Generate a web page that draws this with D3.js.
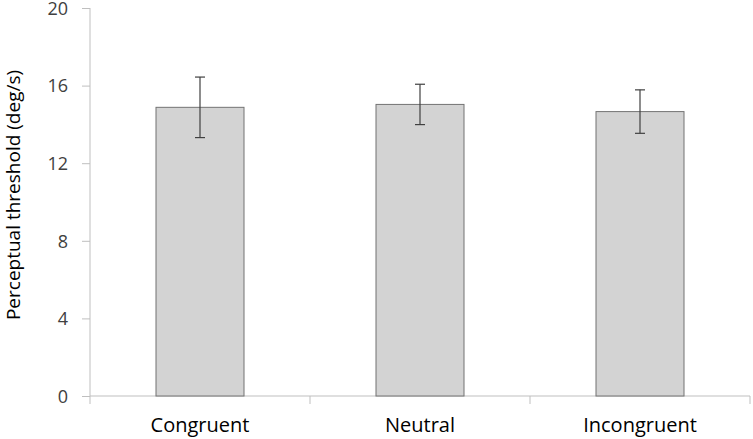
<!DOCTYPE html>
<html><head><meta charset="utf-8">
<script src="https://cdn.jsdelivr.net/npm/d3@7"></script>
<style>body{margin:0;background:#fff}svg{display:block}</style>
</head><body><svg id="c" width="753" height="439"></svg>
<script>
const categories = ["Congruent", "Neutral", "Incongruent"];
const means = [14.88, 15.03, 14.66];
const errors = [1.56, 1.04, 1.12];
const yTicks = [0, 4, 8, 12, 16, 20];
const yLabel = "Perceptual threshold (deg/s)";

(function () {
const svg = d3.select("#c");
const mLeft = 90, mRight = 750, mTop = 8, mBottom = 396;
const x = d3.scaleBand().domain(categories).range([mLeft, mRight]).paddingInner(0.6).paddingOuter(0.3);
const y = d3.scaleLinear().domain([0, 20]).range([mBottom, mTop]);
const font = "'Open Sans', 'Liberation Sans', sans-serif";

// y axis
const ya = svg.append("g").attr("transform", `translate(${mLeft},0)`)
  .call(d3.axisLeft(y).tickValues(yTicks).tickSize(8).tickPadding(14).tickFormat(d3.format("d")));
ya.select(".domain").attr("stroke", "#bfbfbf").attr("d", `M0,${mTop}V${mBottom}`);
ya.selectAll(".tick line").attr("stroke", "#bfbfbf");
ya.selectAll(".tick text").attr("font-family", font).attr("font-size", 18).attr("fill", "#404040")
  .attr("dy", "0.35em");

// x axis
const xa = svg.append("g").attr("transform", `translate(0,${mBottom})`);
xa.append("line").attr("x1", mLeft).attr("x2", mRight).attr("stroke", "#bfbfbf");
const edges = categories.map(c => x(c) - x.step() * 0.3);
edges.push(mRight);
xa.selectAll("line.t").data(edges).join("line").attr("class", "t")
  .attr("x1", d => d).attr("x2", d => d).attr("y1", 0).attr("y2", 8).attr("stroke", "#bfbfbf");
xa.selectAll("text").data(categories).join("text")
  .attr("x", d => x(d) + x.bandwidth() / 2).attr("y", 36)
  .attr("text-anchor", "middle").attr("font-family", font).attr("font-size", 20).attr("fill", "#000")
  .text(d => d);

// bars
svg.selectAll("rect.bar").data(categories).join("rect").attr("class", "bar")
  .attr("x", d => x(d)).attr("width", x.bandwidth())
  .attr("y", (d, i) => y(means[i])).attr("height", (d, i) => y(0) - y(means[i]))
  .attr("fill", "#d3d3d3").attr("stroke", "#737373").attr("stroke-width", 1);

// error bars
const eb = svg.append("g").attr("stroke", "#404040").attr("stroke-width", 1.2);
categories.forEach((c, i) => {
  const cx = x(c) + x.bandwidth() / 2;
  const hi = y(means[i] + errors[i]), lo = y(means[i] - errors[i]);
  eb.append("line").attr("x1", cx).attr("x2", cx).attr("y1", hi).attr("y2", lo);
  eb.append("line").attr("x1", cx - 5).attr("x2", cx + 5).attr("y1", hi).attr("y2", hi);
  eb.append("line").attr("x1", cx - 5).attr("x2", cx + 5).attr("y1", lo).attr("y2", lo);
});

// y label
svg.append("text").attr("transform", `translate(20,195) rotate(-90)`)
  .attr("text-anchor", "middle").attr("font-family", font).attr("font-size", 19).attr("fill", "#000")
  .text(yLabel);
})();
</script></body></html>
